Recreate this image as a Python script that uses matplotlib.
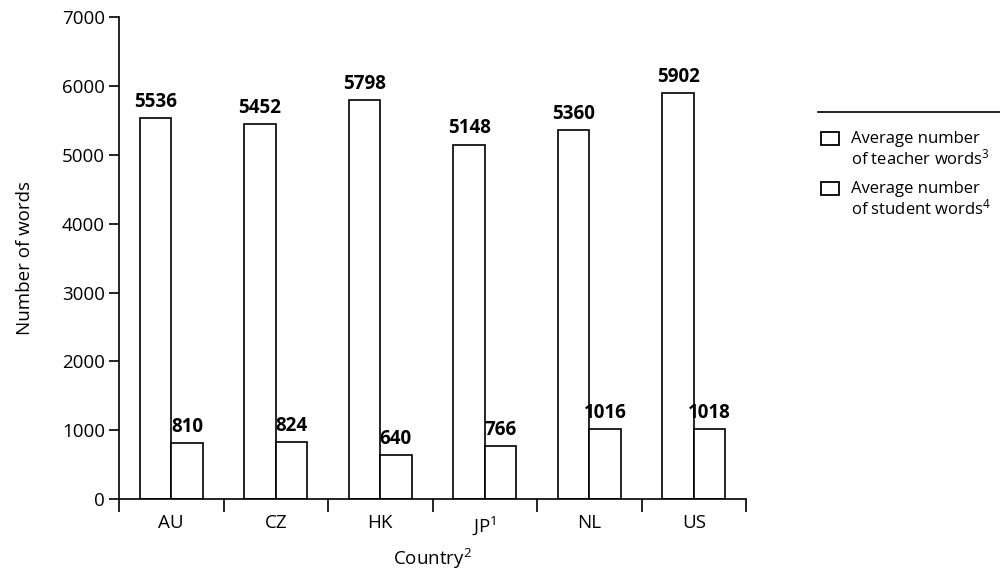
import matplotlib
matplotlib.use("Agg")
import matplotlib.pyplot as plt
import numpy as np
from matplotlib.patches import Rectangle
from matplotlib.lines import Line2D

plt.rcParams['font.family'] = ['Open Sans', 'DejaVu Sans']
plt.rcParams['mathtext.default'] = 'regular'

countries = ["AU", "CZ", "HK", "JP$^{1}$", "NL", "US"]
teacher_words = [5536, 5452, 5798, 5148, 5360, 5902]
student_words = [810, 824, 640, 766, 1016, 1018]
teacher_labels = ["5536", "5452", "5798", "5148", "5360", "5902"]
student_labels = ["810", "824", "640", "766", "1016", "1018"]
legend_lines = [("Average number", "of teacher words$^{3}$"),
                ("Average number", "of student words$^{4}$")]

W, H = 1000, 573
fig = plt.figure(figsize=(10, 5.73), dpi=100)
ax = fig.add_axes([0.119, 0.129, 0.627, 0.841])

x = np.arange(len(countries))
w = 0.3
ax.bar(x + 0.2, teacher_words, width=w, align='edge', facecolor='white', edgecolor='black', linewidth=1.2)
ax.bar(x + 0.5, student_words, width=w, align='edge', facecolor='white', edgecolor='black', linewidth=1.2)

for i in range(len(countries)):
    ax.text(x[i] + 0.35, teacher_words[i] + 90, teacher_labels[i], ha='center', va='bottom',
            fontsize=13.5, fontweight='bold')
    ax.text(x[i] + 0.65, student_words[i] + 90, student_labels[i], ha='center', va='bottom',
            fontsize=13.5, fontweight='bold')

ax.set_xlim(0, len(countries))
ax.set_ylim(0, 7000)
ax.set_yticks(np.arange(0, 7001, 1000))
ax.tick_params(axis='y', labelsize=13.5, length=7, width=1.2, direction='out', pad=3)
ax.set_xticks(np.arange(0, len(countries) + 1))
ax.set_xticklabels([])
ax.set_xticks(x + 0.5, minor=True)
ax.set_xticklabels(countries, minor=True, fontsize=13.5)
ax.tick_params(axis='x', which='major', length=9, width=1.2, direction='out')
ax.tick_params(axis='x', which='minor', length=0, pad=11)

for s in ['top', 'right']:
    ax.spines[s].set_visible(False)
for s in ['left', 'bottom']:
    ax.spines[s].set_linewidth(1.2)

ax.set_ylabel("Number of words", fontsize=13.5, va='center')
ax.yaxis.set_label_coords(-0.150, 0.5)
ax.set_xlabel("Country$^{2}$", fontsize=13.5, va='center')
ax.xaxis.set_label_coords(0.5, -0.124)

# legend (drawn in figure pixel coordinates)
fig.add_artist(Line2D([818 / W, 1.0], [1 - 112 / H, 1 - 112 / H], color='black', linewidth=1.2,
                      transform=fig.transFigure))
for k, (l1, l2) in enumerate(legend_lines):
    y0 = 132 + 50 * k
    fig.add_artist(Rectangle((821 / W, 1 - (y0 + 13) / H), 18 / W, 13 / H, facecolor='white',
                             edgecolor='black', linewidth=1.3, transform=fig.transFigure))
    fig.text(851 / W, 1 - (y0 + 7) / H, l1, fontsize=12, ha='left', va='center')
    fig.text(851 / W, 1 - (y0 + 26) / H, l2, fontsize=12, ha='left', va='center')

fig.savefig("out.png", dpi=100)
